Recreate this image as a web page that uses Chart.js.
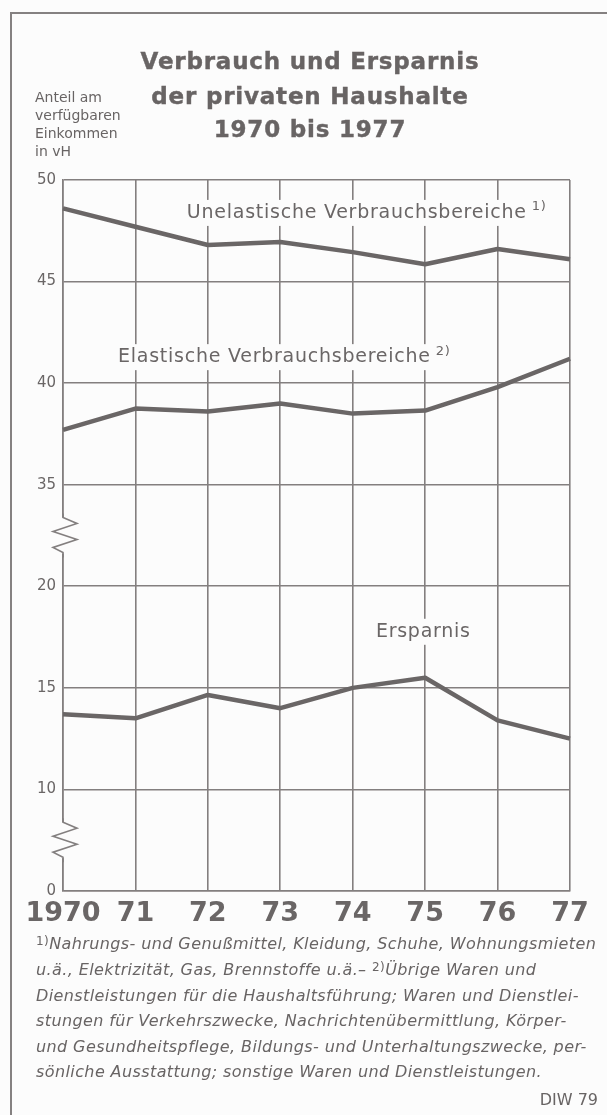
<!DOCTYPE html>
<html>
<head>
<meta charset="utf-8">
<script src="https://cdn.jsdelivr.net/npm/chart.js@4"></script>
<style>
  body { margin: 0; background: #fcfcfc; }
  #wrap { position: relative; width: 607px; height: 1115px; overflow: hidden; color: #686464; font-family: "DejaVu Sans", sans-serif; }
  #frame { position: absolute; left: 10px; top: 12px; width: 620px; height: 1120px; border-left: 2px solid #858181; border-top: 2px solid #858181; }
  #chart { position: absolute; left: 0; top: 0; }
  .title { position: absolute; left: 0; width: 620px; text-align: center; font-weight: bold; font-size: 23px; letter-spacing: 0.8px; -webkit-text-stroke: 0.4px #686464; }
  .ytitle { position: absolute; left: 35px; font-size: 14px; line-height: 18px; top: 88px; }
  .foot { position: absolute; left: 36px; font-style: italic; font-size: 16px; letter-spacing: 0.4px; white-space: nowrap; }
  .foot sup { font-style: normal; font-size: 12px; vertical-align: 4px; }
  #diw { position: absolute; right: 9px; top: 1090px; font-size: 16px; }
</style>
</head>
<body>
<div id="wrap">
  <div id="frame"></div>
  <canvas id="chart" width="607" height="1115"></canvas>
  <div class="title" style="top:48px">Verbrauch und Ersparnis</div>
  <div class="title" style="top:83px">der privaten Haushalte</div>
  <div class="title" style="top:116px">1970 bis 1977</div>
  <div class="ytitle">Anteil am<br>verfügbaren<br>Einkommen<br>in vH</div>
  <div class="foot" style="top:934px"><sup>1)</sup>Nahrungs- und Genußmittel, Kleidung, Schuhe, Wohnungsmieten</div>
  <div class="foot" style="top:960px">u.ä., Elektrizität, Gas, Brennstoffe u.ä.– <sup>2)</sup>Übrige Waren und</div>
  <div class="foot" style="top:986px">Dienstleistungen für die Haushaltsführung; Waren und Dienstlei-</div>
  <div class="foot" style="top:1011px">stungen für Verkehrszwecke, Nachrichtenübermittlung, Körper-</div>
  <div class="foot" style="top:1037px">und Gesundheitspflege, Bildungs- und Unterhaltungszwecke, per-</div>
  <div class="foot" style="top:1062px">sönliche Ausstattung; sonstige Waren und Dienstleistungen.</div>
  <div id="diw">DIW 79</div>
</div>
<script>
const years = ['1970', '71', '72', '73', '74', '75', '76', '77'];
const yTicks = [0, 10, 15, 20, 35, 40, 45, 50];
const unelastisch = [48.6, 47.7, 46.8, 46.95, 46.45, 45.85, 46.6, 46.1];
const elastisch = [37.7, 38.75, 38.6, 39.0, 38.5, 38.65, 39.8, 41.2];
const ersparnis = [13.7, 13.5, 14.65, 14.0, 15.0, 15.5, 13.4, 12.5];
const labels = [
    { text: 'Unelastische Verbrauchsbereiche', sup: '1)', x: 1.71, y: 48.38 },
    { text: 'Elastische Verbrauchsbereiche', sup: '2)', x: 0.76, y: 41.28 },
    { text: 'Ersparnis', sup: '', x: 4.32, y: 17.76 }
];

const grey = '#6a6666';
const gridGrey = '#837f7f';

// broken axis: every tick value gets the same spacing
function toAxis(v) {
    for (let i = 0; i < yTicks.length - 1; i++) {
        if (v <= yTicks[i + 1]) return i + (v - yTicks[i]) / (yTicks[i + 1] - yTicks[i]);
    }
    return yTicks.length - 1;
}

const lineSet = (data) => ({
    data: data.map(toAxis),
    borderColor: grey,
    borderWidth: 4.5,
    pointRadius: 0,
    tension: 0,
    borderJoinStyle: 'round'
});

const extras = {
    id: 'extras',
    afterDraw(chart) {
        const ctx = chart.ctx;
        const xs = chart.scales.x, ys = chart.scales.y;
        ctx.save();
        // zigzag breaks
        [0.5, 3.5].forEach(p => {
            const cy = ys.getPixelForValue(p);
            const x0 = xs.left;
            ctx.fillStyle = '#fcfcfc';
            ctx.fillRect(x0 - 3, cy - 18, 6, 36);
            ctx.strokeStyle = gridGrey;
            ctx.lineWidth = 1.6;
            ctx.beginPath();
            ctx.moveTo(x0, cy - 22);
            ctx.lineTo(x0, cy - 18);
            ctx.lineTo(x0 + 14, cy - 12);
            ctx.lineTo(x0 - 10, cy - 4);
            ctx.lineTo(x0 + 14, cy + 4);
            ctx.lineTo(x0 - 10, cy + 12);
            ctx.lineTo(x0, cy + 17);
            ctx.lineTo(x0, cy + 22);
            ctx.stroke();
        });
        // line labels
        ctx.letterSpacing = '0.75px';
        labels.forEach(l => {
            const px = xs.getPixelForValue(l.x);
            const py = ys.getPixelForValue(toAxis(l.y));
            ctx.font = '19px "DejaVu Sans"';
            const w = ctx.measureText(l.text).width;
            ctx.font = '13px "DejaVu Sans"';
            const ws = l.sup ? ctx.measureText(l.sup).width + 5 : 0;
            ctx.fillStyle = '#fcfcfc';
            ctx.fillRect(px - 4, py - 13, w + ws + 8, 26);
            ctx.fillStyle = grey;
            ctx.textBaseline = 'middle';
            ctx.font = '19px "DejaVu Sans"';
            ctx.fillText(l.text, px, py);
            if (l.sup) {
                ctx.font = '13px "DejaVu Sans"';
                ctx.fillText(l.sup, px + w + 5, py - 6);
            }
        });
        ctx.restore();
    }
};

new Chart(document.getElementById('chart'), {
    type: 'line',
    data: {
        labels: years,
        datasets: [lineSet(unelastisch), lineSet(elastisch), lineSet(ersparnis)]
    },
    options: {
        responsive: false,
        animation: false,
        layout: { padding: { left: 0, top: 180, right: 37, bottom: 184 } },
        plugins: { legend: { display: false }, tooltip: { enabled: false } },
        scales: {
            x: {
                offset: false,
                afterFit: s => { s.height = 40; },
                grid: { color: gridGrey, lineWidth: 1.6, drawTicks: false },
                border: { color: gridGrey, width: 1.6 },
                ticks: {
                    autoSkip: false,
                    padding: 7,
                    color: grey,
                    maxRotation: 0,
                    font: { family: 'DejaVu Sans', weight: 'bold', size: 27 }
                }
            },
            y: {
                min: 0,
                max: yTicks.length - 1,
                afterFit: s => { s.width = 63; },
                grid: { color: gridGrey, lineWidth: 1.6, drawTicks: false },
                border: { color: gridGrey, width: 1.6 },
                ticks: {
                    stepSize: 1,
                    padding: 7,
                    color: grey,
                    font: { family: 'DejaVu Sans', size: 15 },
                    callback: v => yTicks[v]
                }
            }
        }
    },
    plugins: [extras]
});
</script>
</body>
</html>
